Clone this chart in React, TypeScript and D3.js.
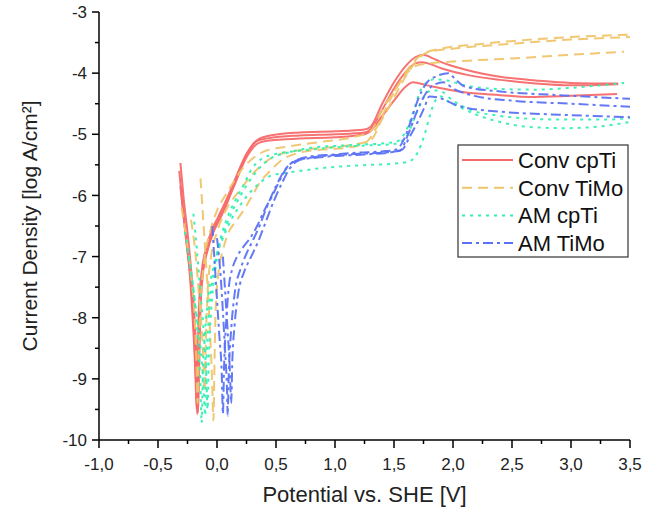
import * as d3 from "d3"

// potential [V vs SHE], log current density [log A/cm²]
const convCpTi1 = [[-0.31,-5.47],[-0.28,-6.1],[-0.25,-6.6],[-0.22,-7.2],[-0.2,-7.7],[-0.18,-8.4],[-0.168,-9.0],[-0.16,-9.55],[-0.152,-8.9],[-0.142,-8.0],[-0.12,-7.3],[-0.08,-6.9],[-0.03,-6.6],[0.02,-6.4],[0.07,-6.2],[0.11,-6.0],[0.16,-5.75],[0.21,-5.5],[0.26,-5.3],[0.31,-5.15],[0.36,-5.07],[0.45,-5.02],[0.7,-4.97],[1.0,-4.95],[1.25,-4.92],[1.3,-4.88],[1.4,-4.5],[1.5,-4.15],[1.6,-3.88],[1.68,-3.74],[1.75,-3.7],[1.82,-3.75],[1.9,-3.82],[2.1,-3.94],[2.4,-4.06],[2.7,-4.12],[3.0,-4.16],[3.4,-4.17]]
const convCpTi2 = [[-0.32,-5.6],[-0.29,-6.2],[-0.26,-6.75],[-0.23,-7.3],[-0.21,-7.9],[-0.19,-8.6],[-0.18,-9.1],[-0.172,-9.5],[-0.165,-8.8],[-0.155,-7.9],[-0.13,-7.25],[-0.09,-6.85],[-0.04,-6.55],[0.01,-6.35],[0.06,-6.15],[0.1,-5.98],[0.15,-5.75],[0.2,-5.52],[0.25,-5.32],[0.3,-5.18],[0.35,-5.1],[0.45,-5.06],[0.7,-5.02],[1.0,-5.0],[1.25,-4.97],[1.3,-4.92],[1.4,-4.6],[1.5,-4.25],[1.6,-3.98],[1.68,-3.84],[1.74,-3.82],[1.82,-3.86],[1.9,-3.92],[2.1,-4.02],[2.4,-4.11],[2.7,-4.17],[3.0,-4.2],[3.4,-4.18]]
const convCpTi3 = [[-0.31,-5.85],[-0.28,-6.4],[-0.25,-6.9],[-0.22,-7.45],[-0.2,-8.0],[-0.185,-8.7],[-0.175,-9.2],[-0.168,-9.58],[-0.16,-8.9],[-0.15,-8.0],[-0.125,-7.3],[-0.085,-6.9],[-0.035,-6.6],[0.015,-6.38],[0.065,-6.18],[0.105,-6.02],[0.155,-5.8],[0.205,-5.56],[0.255,-5.36],[0.305,-5.22],[0.355,-5.14],[0.45,-5.1],[0.7,-5.07],[1.0,-5.05],[1.25,-5.0],[1.3,-4.95],[1.4,-4.7],[1.5,-4.45],[1.6,-4.22],[1.66,-4.15],[1.7,-4.16],[1.78,-4.2],[1.86,-4.23],[2.08,-4.31],[2.4,-4.36],[2.65,-4.39],[3.0,-4.37],[3.39,-4.34]]

const convTiMo1 = [[-0.14,-5.72],[-0.12,-6.3],[-0.1,-6.9],[-0.08,-7.5],[-0.06,-8.2],[-0.042,-9.0],[-0.03,-9.68],[-0.02,-8.6],[-0.01,-7.8],[0.01,-7.3],[0.05,-6.9],[0.1,-6.6],[0.17,-6.4],[0.24,-6.2],[0.3,-6.0],[0.36,-5.8],[0.45,-5.6],[0.55,-5.42],[0.7,-5.3],[0.9,-5.25],[1.1,-5.22],[1.25,-5.15],[1.35,-4.9],[1.45,-4.5],[1.55,-4.15],[1.65,-3.85],[1.75,-3.68],[1.9,-3.6],[2.2,-3.53],[2.6,-3.46],[3.0,-3.41],[3.5,-3.37]]
const convTiMo2 = [[-0.3,-6.2],[-0.26,-6.7],[-0.22,-7.3],[-0.19,-8.0],[-0.175,-8.7],[-0.165,-9.4],[-0.155,-8.6],[-0.14,-7.8],[-0.11,-7.1],[-0.06,-6.6],[0.0,-6.25],[0.07,-6.0],[0.15,-5.75],[0.22,-5.55],[0.3,-5.4],[0.4,-5.28],[0.6,-5.2],[0.9,-5.12],[1.15,-5.05],[1.3,-4.95],[1.4,-4.6],[1.5,-4.3],[1.6,-4.02],[1.7,-3.87],[1.8,-3.84],[2.0,-3.81],[2.5,-3.76],[3.0,-3.7],[3.45,-3.65]]
const convTiMo3 = [[-0.22,-6.4],[-0.18,-7.0],[-0.15,-7.7],[-0.12,-8.5],[-0.105,-9.2],[-0.095,-8.4],[-0.08,-7.6],[-0.05,-7.0],[0.0,-6.6],[0.06,-6.3],[0.12,-6.1],[0.2,-5.9],[0.28,-5.7],[0.38,-5.5],[0.5,-5.35],[0.7,-5.26],[0.9,-5.22],[1.15,-5.17],[1.3,-5.1],[1.4,-4.75],[1.5,-4.4],[1.6,-4.05],[1.7,-3.78],[1.78,-3.66],[2.0,-3.6],[2.5,-3.52],[3.0,-3.45],[3.5,-3.41]]

const amCpTi1 = [[-0.27,-6.6],[-0.23,-7.1],[-0.19,-7.7],[-0.16,-8.4],[-0.14,-9.1],[-0.13,-9.72],[-0.12,-8.9],[-0.1,-8.2],[-0.07,-7.6],[-0.02,-7.1],[0.05,-6.7],[0.12,-6.4],[0.2,-6.15],[0.28,-5.95],[0.36,-5.8],[0.45,-5.68],[0.55,-5.64],[0.7,-5.6],[0.9,-5.55],[1.1,-5.52],[1.3,-5.5],[1.5,-5.48],[1.62,-5.45],[1.7,-5.3],[1.76,-5.0],[1.8,-4.72],[1.85,-4.45],[1.9,-4.38],[1.95,-4.45],[2.05,-4.55],[2.2,-4.68],[2.4,-4.8],[2.65,-4.88],[2.95,-4.9],[3.2,-4.88],[3.5,-4.8]]
const amCpTi2 = [[-0.25,-6.9],[-0.21,-7.4],[-0.17,-8.0],[-0.13,-8.7],[-0.11,-9.3],[-0.1,-9.6],[-0.09,-8.8],[-0.07,-8.0],[-0.04,-7.4],[0.0,-6.95],[0.06,-6.6],[0.12,-6.3],[0.2,-6.0],[0.28,-5.75],[0.36,-5.55],[0.45,-5.4],[0.6,-5.3],[0.8,-5.22],[1.0,-5.19],[1.2,-5.17],[1.4,-5.15],[1.52,-5.12],[1.6,-4.95],[1.67,-4.6],[1.72,-4.3],[1.78,-4.15],[1.85,-4.1],[1.95,-4.12],[2.1,-4.2],[2.4,-4.26],[2.7,-4.27],[3.0,-4.24],[3.25,-4.2],[3.45,-4.16]]
const amCpTi3 = [[-0.2,-6.3],[-0.17,-6.9],[-0.14,-7.6],[-0.11,-8.3],[-0.09,-9.0],[-0.08,-9.5],[-0.07,-8.7],[-0.05,-7.9],[-0.02,-7.3],[0.02,-6.8],[0.08,-6.4],[0.15,-6.1],[0.22,-5.85],[0.3,-5.55],[0.38,-5.4],[0.5,-5.32],[0.7,-5.27],[0.9,-5.23],[1.1,-5.2],[1.3,-5.18],[1.5,-5.16],[1.6,-5.05],[1.68,-4.7],[1.75,-4.4],[1.82,-4.28],[1.9,-4.3],[2.0,-4.45],[2.15,-4.6],[2.4,-4.7],[2.7,-4.75],[3.0,-4.76],[3.3,-4.76],[3.5,-4.73]]

const amTiMo1 = [[-0.04,-6.5],[-0.02,-7.1],[0.0,-7.7],[0.02,-8.3],[0.04,-8.9],[0.05,-9.57],[0.06,-8.8],[0.08,-8.0],[0.1,-7.5],[0.13,-7.2],[0.17,-7.0],[0.22,-6.85],[0.28,-6.7],[0.34,-6.5],[0.4,-6.25],[0.47,-6.0],[0.54,-5.72],[0.6,-5.52],[0.68,-5.42],[0.8,-5.36],[1.0,-5.33],[1.2,-5.3],[1.4,-5.28],[1.52,-5.25],[1.58,-5.1],[1.64,-4.8],[1.7,-4.45],[1.78,-4.15],[1.86,-4.05],[1.96,-4.0],[2.02,-4.1],[2.1,-4.22],[2.4,-4.3],[2.9,-4.36],[3.5,-4.42]]
const amTiMo2 = [[0.0,-6.7],[0.03,-7.3],[0.05,-7.9],[0.07,-8.6],[0.085,-9.2],[0.09,-9.6],[0.1,-8.9],[0.12,-8.2],[0.15,-7.6],[0.2,-7.2],[0.25,-6.95],[0.3,-6.75],[0.36,-6.5],[0.42,-6.2],[0.5,-5.85],[0.57,-5.6],[0.65,-5.45],[0.8,-5.38],[1.0,-5.34],[1.2,-5.32],[1.4,-5.3],[1.55,-5.27],[1.62,-5.0],[1.7,-4.6],[1.78,-4.3],[1.85,-4.18],[1.92,-4.15],[2.0,-4.25],[2.2,-4.38],[2.5,-4.45],[3.0,-4.5],[3.5,-4.55]]
const amTiMo3 = [[0.05,-7.0],[0.07,-7.6],[0.09,-8.2],[0.11,-8.9],[0.12,-9.4],[0.13,-8.7],[0.15,-8.1],[0.18,-7.6],[0.23,-7.25],[0.29,-7.0],[0.35,-6.75],[0.41,-6.45],[0.48,-6.1],[0.55,-5.8],[0.62,-5.55],[0.7,-5.42],[0.85,-5.38],[1.05,-5.35],[1.25,-5.33],[1.45,-5.3],[1.57,-5.25],[1.63,-5.05],[1.7,-4.8],[1.76,-4.55],[1.8,-4.38],[1.88,-4.4],[2.0,-4.5],[2.1,-4.56],[2.4,-4.63],[2.9,-4.68],[3.5,-4.72]]

const seriesNames = ["Conv cpTi", "Conv TiMo", "AM cpTi", "AM TiMo"]
const seriesCurves = [
    [convCpTi1, convCpTi2, convCpTi3],
    [convTiMo1, convTiMo2, convTiMo3],
    [amCpTi1, amCpTi2, amCpTi3],
    [amTiMo1, amTiMo2, amTiMo3],
]
const colors = ["#f76a6a", "#efc46c", "#30f0b4", "#5b72f6"]
const dashes = ["none", "10 6", "3 5", "10 4 3 4"]

const xTicks = [-1, -0.5, 0, 0.5, 1, 1.5, 2, 2.5, 3, 3.5]
const yTicks = [-10, -9, -8, -7, -6, -5, -4, -3]

export default function App() {
    const width = 659
    const height = 508
    const x = d3.scaleLinear().domain([-1, 3.5]).range([99, 630])
    const y = d3.scaleLinear().domain([-10, -3]).range([440, 12])
    const line = d3
        .line<number[]>()
        .x((d) => x(d[0]))
        .y((d) => y(d[1]))
        .curve(d3.curveMonotoneX)

    const fmt = (v: number) => d3.format(".1f")(v).replace(".", ",").replace("−", "-")
    const xMinor = d3.range(-0.75, 3.5, 0.5)
    const yMinor = d3.range(-9.5, -3, 1)
    const font = "'Liberation Sans', Arial, sans-serif"

    return (
        <svg
            width={width}
            height={height}
            style={{ position: "absolute", left: 0, top: 0, background: "#fff" }}
            fontFamily={font}
        >
            {/* Curves */}
            {seriesCurves.map((curves, s) =>
                curves.map((c, i) => (
                    <path
                        key={`${s}-${i}`}
                        d={line(c) ?? ""}
                        fill="none"
                        stroke={colors[s]}
                        strokeWidth={2}
                        strokeDasharray={dashes[s]}
                        strokeOpacity={0.95}
                    />
                ))
            )}

            {/* Axes */}
            <line x1={x(-1)} x2={x(3.5)} y1={y(-10)} y2={y(-10)} stroke="#000" strokeWidth={1.5} />
            <line x1={x(-1)} x2={x(-1)} y1={y(-10)} y2={y(-3)} stroke="#000" strokeWidth={1.5} />
            {xTicks.map((t) => (
                <g key={t} transform={`translate(${x(t)},${y(-10)})`}>
                    <line y2={8} stroke="#000" strokeWidth={1.5} />
                    <text y={30} textAnchor="middle" fontSize={17} fill="#222">
                        {fmt(t)}
                    </text>
                </g>
            ))}
            {xMinor.map((t) => (
                <line key={t} x1={x(t)} x2={x(t)} y1={y(-10)} y2={y(-10) + 4} stroke="#000" strokeWidth={1.5} />
            ))}
            {yTicks.map((t) => (
                <g key={t} transform={`translate(${x(-1)},${y(t)})`}>
                    <line x2={-7} stroke="#000" strokeWidth={1.5} />
                    <text x={-12} dy="0.36em" textAnchor="end" fontSize={17} fill="#222">
                        {t}
                    </text>
                </g>
            ))}
            {yMinor.map((t) => (
                <line key={t} x1={x(-1)} x2={x(-1) - 4} y1={y(t)} y2={y(t)} stroke="#000" strokeWidth={1.5} />
            ))}

            {/* Axis titles */}
            <text x={(x(-1) + x(3.5)) / 2} y={502} textAnchor="middle" fontSize={22} fill="#222">
                Potential vs. SHE [V]
            </text>
            <text
                transform={`translate(37,${(y(-10) + y(-3)) / 2}) rotate(-90)`}
                textAnchor="middle"
                fontSize={21}
                fill="#222"
            >
                Current Density [log A/cm²]
            </text>

            {/* Legend */}
            <g>
                <rect x={458} y={145} width={170} height={112} fill="#fff" stroke="#333" strokeWidth={1.2} />
                {seriesNames.map((n, i) => (
                    <g key={n} transform={`translate(462,${160 + i * 27.7})`}>
                        <line x1={0} x2={51} stroke={colors[i]} strokeWidth={2} strokeDasharray={dashes[i]} />
                        <text x={56} dy="0.36em" fontSize={22} fill="#111">
                            {n}
                        </text>
                    </g>
                ))}
            </g>
        </svg>
    )
}
